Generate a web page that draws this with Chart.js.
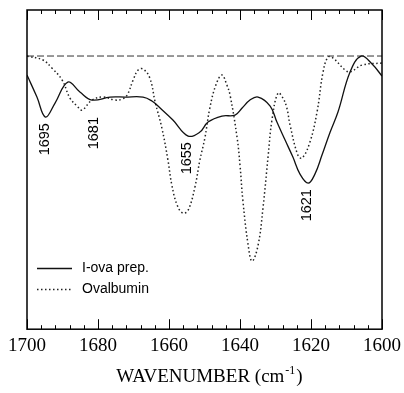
<!DOCTYPE html>
<html>
<head>
<meta charset="utf-8">
<script src="https://cdn.jsdelivr.net/npm/chart.js@4/dist/chart.umd.min.js"></script>
<style>
  html, body { margin: 0; padding: 0; background: #fff; }
  #wrap { width: 404px; height: 393px; position: relative; }
</style>
</head>
<body>
<div id="wrap"><canvas id="chart" width="404" height="393"></canvas></div>
<script>
// Second-derivative spectra, amide I region (wavenumber in cm-1, arbitrary units)
const wnIova = [1700.0, 1697.2, 1694.8, 1692.1, 1688.5, 1685.1, 1681.7, 1676.6, 1672.4, 1667.3,
  1664.8, 1662.5, 1658.9, 1654.6, 1651.3, 1649.0, 1645.1, 1641.4, 1639.4, 1637.2,
  1634.9, 1631.5, 1629.6, 1627.3, 1625.1, 1623.1, 1620.8, 1618.9, 1616.9, 1614.6,
  1612.4, 1609.0, 1605.9, 1602.8, 1600.0];
const absIova = [-0.19, -0.41, -0.61, -0.47, -0.26, -0.36, -0.44, -0.41, -0.41, -0.41,
  -0.45, -0.52, -0.64, -0.80, -0.76, -0.66, -0.60, -0.59, -0.52, -0.44,
  -0.41, -0.50, -0.66, -0.84, -1.01, -1.18, -1.27, -1.18, -0.99, -0.76,
  -0.56, -0.16, 0.00, -0.08, -0.20];

const wnOva = [1700.0, 1695.5, 1693.0, 1690.1, 1687.9, 1685.9, 1684.5, 1681.7, 1678.6, 1675.2,
  1673.2, 1671.8, 1670.1, 1668.7, 1667.3, 1665.4, 1663.9, 1662.0, 1660.3, 1659.2,
  1657.7, 1656.1, 1654.6, 1652.7, 1651.3, 1649.9, 1648.5, 1646.8, 1645.1, 1643.7,
  1642.8, 1640.8, 1640.0, 1639.2, 1637.7, 1636.6, 1634.9, 1633.5, 1632.1, 1631.0,
  1629.3, 1627.9, 1626.8, 1625.9, 1623.7, 1622.5, 1620.3, 1618.3, 1616.6, 1615.2,
  1613.8, 1610.4, 1609.0, 1605.6, 1600.0];
const absOva = [0.00, -0.04, -0.12, -0.24, -0.42, -0.50, -0.54, -0.44, -0.41, -0.44,
  -0.43, -0.39, -0.24, -0.14, -0.13, -0.22, -0.46, -0.72, -1.04, -1.29,
  -1.49, -1.57, -1.54, -1.31, -1.04, -0.82, -0.52, -0.29, -0.19, -0.29,
  -0.39, -0.82, -1.09, -1.44, -1.89, -2.05, -1.89, -1.51, -1.01, -0.64,
  -0.37, -0.42, -0.52, -0.69, -0.99, -1.02, -0.86, -0.56, -0.16, -0.01,
  -0.02, -0.14, -0.16, -0.09, -0.07];

const xTicks = [1700, 1680, 1660, 1640, 1620, 1600];
const peakLabels = [1695, 1681, 1655, 1621];
const seriesNames = ['I-ova prep.', 'Ovalbumin'];

const toPoints = (xs, ys) => xs.map((x, i) => ({ x: x, y: ys[i] }));

// frame, inward ticks, peak labels, legend and axis title
const decorations = {
  id: 'decorations',
  afterDraw(chart) {
    const ctx = chart.ctx;
    const area = chart.chartArea;
    const xs = chart.scales.x;
    const ys = chart.scales.y;
    ctx.save();

    // ticks on top and bottom edges, pointing in
    ctx.strokeStyle = '#000';
    ctx.lineWidth = 1;
    for (let v = 1600; v <= 1700; v += 4) {
      const major = xTicks.includes(v);
      const len = major ? 10 : 4;
      const px = Math.round(xs.getPixelForValue(v)) + 0.5;
      ctx.beginPath();
      ctx.moveTo(px, area.bottom);
      ctx.lineTo(px, area.bottom - len);
      ctx.moveTo(px, area.top);
      ctx.lineTo(px, area.top + len);
      ctx.stroke();
    }

    // box
    ctx.lineWidth = 1.5;
    ctx.strokeRect(area.left, area.top, area.right - area.left, area.bottom - area.top);

    // peak positions under the I-ova trace
    const gaps = { 1681: 17 };
    ctx.fillStyle = '#000';
    ctx.font = '14.5px "Liberation Sans", Arial, sans-serif';
    ctx.textAlign = 'right';
    ctx.textBaseline = 'middle';
    peakLabels.forEach(p => {
      let best = 0;
      wnIova.forEach((w, i) => {
        if (Math.abs(w - p) < Math.abs(wnIova[best] - p)) best = i;
      });
      const px = xs.getPixelForValue(p);
      const py = ys.getPixelForValue(absIova[best]) + (gaps[p] || 6);
      ctx.save();
      ctx.translate(px, py);
      ctx.rotate(-Math.PI / 2);
      ctx.fillText(String(p), 0, 0);
      ctx.restore();
    });

    // legend
    ctx.textAlign = 'left';
    ctx.font = '14px "Liberation Sans", Arial, sans-serif';
    const rows = [268, 289];
    chart.data.datasets.slice(0, 2).forEach((ds, i) => {
      ctx.strokeStyle = ds.borderColor;
      ctx.lineWidth = ds.borderWidth;
      ctx.setLineDash(ds.borderDash || []);
      ctx.beginPath();
      ctx.moveTo(37, rows[i] + 0.5);
      ctx.lineTo(72, rows[i] + 0.5);
      ctx.stroke();
      ctx.setLineDash([]);
      ctx.fillText(ds.label, 82, rows[i]);
    });

    // axis title with superscript
    const cx = (area.left + area.right) / 2;
    const base = 382;
    const main = 'WAVENUMBER (cm';
    const sup = '-1';
    const tail = ')';
    ctx.font = '19px "Liberation Serif", "Times New Roman", serif';
    const wMain = ctx.measureText(main).width;
    const wTail = ctx.measureText(tail).width;
    ctx.font = '12px "Liberation Serif", "Times New Roman", serif';
    const wSup = ctx.measureText(sup).width;
    let x0 = cx - (wMain + wSup + wTail) / 2 + 4;
    ctx.textBaseline = 'alphabetic';
    ctx.font = '19px "Liberation Serif", "Times New Roman", serif';
    ctx.fillText(main, x0, base);
    ctx.font = '12px "Liberation Serif", "Times New Roman", serif';
    ctx.fillText(sup, x0 + wMain + 1, base - 8);
    ctx.font = '19px "Liberation Serif", "Times New Roman", serif';
    ctx.fillText(tail, x0 + wMain + wSup + 2, base);
    ctx.restore();
  }
};

const ctx = document.getElementById('chart').getContext('2d');
new Chart(ctx, {
  type: 'line',
  data: {
    datasets: [
      {
        label: seriesNames[0],
        data: toPoints(wnIova, absIova),
        borderColor: '#111',
        borderWidth: 1.3,
        pointRadius: 0,
        tension: 0.4,
        fill: false
      },
      {
        label: seriesNames[1],
        data: toPoints(wnOva, absOva),
        borderColor: '#222',
        borderWidth: 1.5,
        borderDash: [1.5, 2.5],
        pointRadius: 0,
        tension: 0.4,
        fill: false
      },
      {
        label: 'baseline',
        data: [{ x: 1700, y: 0 }, { x: 1600, y: 0 }],
        borderColor: '#333',
        borderWidth: 1,
        borderDash: [7, 3],
        pointRadius: 0,
        fill: false
      }
    ]
  },
  options: {
    responsive: false,
    animation: false,
    layout: { padding: { left: 27, right: 22, top: 10, bottom: 31 } },
    plugins: {
      legend: { display: false },
      tooltip: { enabled: false }
    },
    scales: {
      x: {
        type: 'linear',
        reverse: true,
        min: 1600,
        max: 1700,
        afterBuildTicks: (scale) => { scale.ticks = xTicks.map(v => ({ value: v })); },
        // end labels may hang over the frame, as on the printed axis
        afterFit: (scale) => { scale.paddingLeft = 0; scale.paddingRight = 0; },
        ticks: {
          callback: (v) => String(v),
          color: '#000',
          padding: 5,
          maxRotation: 0,
          font: { family: '"Liberation Serif", "Times New Roman", serif', size: 19 }
        },
        grid: { display: false, drawTicks: false },
        border: { display: false }
      },
      y: {
        display: false,
        min: -2.73,
        max: 0.46
      }
    }
  },
  plugins: [decorations]
});
</script>
</body>
</html>
